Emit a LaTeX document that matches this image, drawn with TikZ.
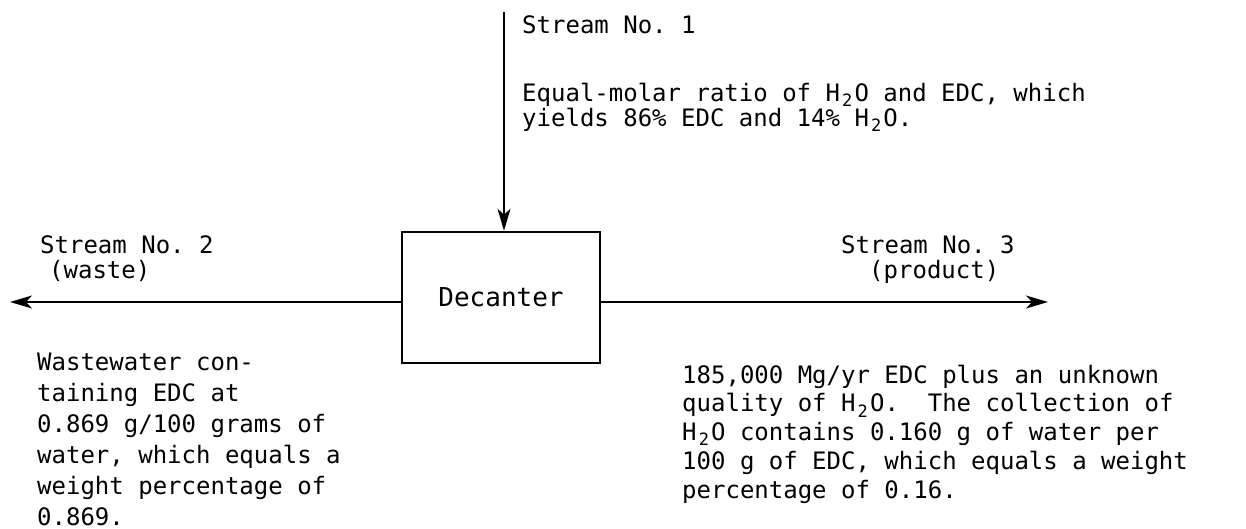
\documentclass[tikz,border=0pt]{standalone}
\usepackage{fontspec}
\setmonofont{DejaVu Sans Mono}
\usetikzlibrary{arrows.meta,positioning}
\frenchspacing
% lowered subscript two, one character cell wide
\newcommand{\hsub}{\hbox to \fontcharwd\font`0{\hss\raisebox{-0.4ex}{\fontsize{17}{17}\selectfont 2}\hss}}
\tikzset{
  unit/.style={draw,line width=2.5pt,minimum width=198pt,minimum height=131pt,inner sep=0pt,
    font=\ttfamily\fontsize{26}{26}\selectfont},
  flow/.style={line width=1.5pt,-{Stealth[length=22pt,width=13pt,inset=6pt]}},
  txt/.style={align=left,inner sep=0pt,anchor=north west}
}

\begin{document}
\begin{tikzpicture}[x=1pt,y=-1pt]
  \useasboundingbox (0,0) rectangle (1246,529);
  \node[unit] (dec) at (501,297.5) {Decanter};
  \coordinate (s1) at (504,12);
  \coordinate (s2) at (10,302);
  \coordinate (s3) at (1048,302);
  \draw[flow] (s1) -- (s1 |- dec.north);
  \draw[flow] (dec.west |- s2) -- (s2);
  \draw[flow] (dec.east |- s3) -- (s3);
  % stream labels
  \node[txt,font=\ttfamily\fontsize{24}{22}\selectfont] (name1) at (522,15) {Stream No. 1};
  \node[txt,font=\ttfamily\fontsize{24}{22}\selectfont] (feed) at (522,83)
    {Equal-molar ratio of H\hsub O and EDC, which\\
     yields 86\% EDC and 14\% H\hsub O.};
  \node[txt,font=\ttfamily\fontsize{24}{25}\selectfont] (name2) at (40,235)
    {Stream No. 2\\ \hspace*{9pt}(waste)};
  \node[txt,font=\ttfamily\fontsize{24}{25}\selectfont] (name3) at (841,235)
    {Stream No. 3\\ \hspace*{28pt}(product)};
  % stream contents
  \node[txt,font=\ttfamily\fontsize{24}{31}\selectfont] (waste) at (37,352.5)
    {Wastewater con-\\
     taining EDC at\\
     0.869 g/100 grams of\\
     water, which equals a\\
     weight percentage of\\
     0.869.};
  \node[txt,font=\ttfamily\fontsize{24}{28.75}\selectfont] (product) at (682,364.5)
    {185,000 Mg/yr EDC plus an unknown\\
     quality of H\hsub O.\ \ The collection of\\
     H\hsub O contains 0.160 g of water per\\
     100 g of EDC, which equals a weight\\
     percentage of 0.16.};
\end{tikzpicture}
\end{document}
